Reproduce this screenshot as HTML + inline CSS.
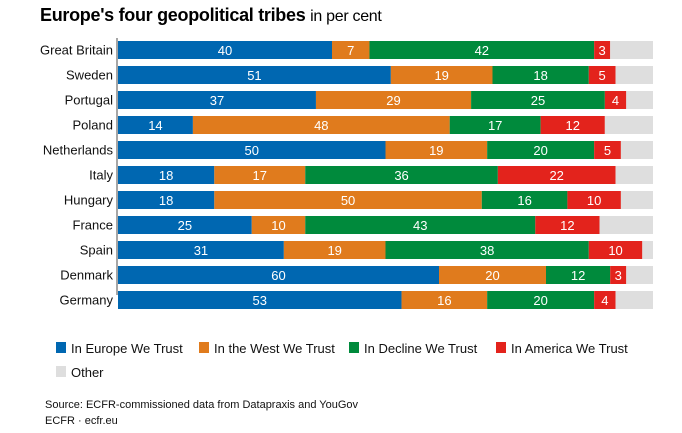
<!DOCTYPE html>
<html><head><meta charset="utf-8"><style>
body{margin:0;background:#fff;font-family:"Liberation Sans",sans-serif;}
#wrap{position:relative;width:682px;height:433px;overflow:hidden;}
.t{position:absolute;white-space:nowrap;}
</style></head><body>
<div id="wrap">
<div class="t" style="left:40px;top:5px;font-size:18px;color:#000;letter-spacing:-0.3px"><b>Europe's four geopolitical tribes</b> <span style="font-size:16px">in per cent</span></div>
<svg id="svg" width="682" height="433" style="position:absolute;left:0;top:0"></svg>
<div class="t" style="left:45px;top:399px;font-size:11px;color:#111">Source: ECFR-commissioned data from Datapraxis and YouGov</div>
<div class="t" style="left:45px;top:415px;font-size:11px;color:#111">ECFR · ecfr.eu</div>
</div>
<script>
const countries=["Great Britain","Sweden","Portugal","Poland","Netherlands","Italy","Hungary","France","Spain","Denmark","Germany"];
const europe=[40,51,37,14,50,18,18,25,31,60,53];
const west=[7,19,29,48,19,17,50,10,19,20,16];
const decline=[42,18,25,17,20,36,16,43,38,12,20];
const america=[3,5,4,12,5,22,10,12,10,3,4];
const seriesNames=["In Europe We Trust","In the West We Trust","In Decline We Trust","In America We Trust","Other"];
const colors=["#0067b1","#e07b1d","#008a3c","#e3231c","#dedede"];
const x0=118,x1=653,y0=50,step=25,bh=18;
const xs=v=>(v/100)*(x1-x0);
const ys=i=>y0+i*step;
const svg=document.getElementById('svg');const NS="http://www.w3.org/2000/svg";
function mk(t,a){const e=document.createElementNS(NS,t);for(const k in a)e.setAttribute(k,a[k]);svg.appendChild(e);return e;}
const series=[europe,west,decline,america];
countries.forEach((c,i)=>{
  const cy=ys(i);
  const lab=mk('text',{x:113,y:cy+4.5,'text-anchor':'end','font-size':13,fill:'#111','font-family':'Liberation Sans'});
  lab.textContent=c;
  
  
  let acc=0;
  series.forEach((s,k)=>{
    const r=mk('rect',{x:x0+xs(acc),y:cy-bh/2,width:xs(s[i]),height:bh,fill:colors[k]});
    
    
    const tx=mk('text',{x:x0+xs(acc+s[i]/2),y:cy+5,'text-anchor':'middle','font-size':13,fill:'#fff','font-family':'Liberation Sans'});
    tx.textContent=s[i];
    
    
    acc+=s[i];
  });
  const o=mk('rect',{x:x0+xs(acc),y:cy-bh/2,width:xs(100-acc),height:bh,fill:colors[4]});
  
  
});
const ax=mk('line',{x1:117,x2:117,y1:ys(0)-12,y2:ys(countries.length-1)-5,stroke:'#888','stroke-width':1.5});


const lx=[56,199,349,496,56],ly=[348,348,348,348,372];
seriesNames.forEach((n,k)=>{
  const r=mk('rect',{x:lx[k],y:ly[k]-6,width:10,height:11,fill:colors[k]});
  
  
  const t=mk('text',{x:lx[k]+15,y:ly[k]+5,'font-size':13,fill:'#111','font-family':'Liberation Sans'});
  t.textContent=n;
  
  
});
</script>
</body></html>
